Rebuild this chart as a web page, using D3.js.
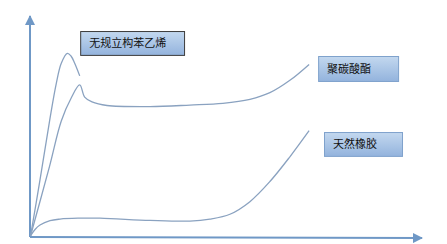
<!DOCTYPE html>
<html>
<head>
<meta charset="utf-8">
<script src="https://cdn.jsdelivr.net/npm/d3@7"></script>
<style>
  body { margin: 0; background: #fff; }
  svg { display: block; }
</style>
</head>
<body>
<svg width="447" height="244"></svg>
<script>
// curve values (x: strain 0..100, y: stress 0..100)
const atacticPS = [[0.13, 0.45], [2.55, 25.8], [5.03, 52.9], [6.71, 69.5], [7.98, 78.6], [9.52, 83.1], [10.46, 81.9], [11.4, 78.6], [12.68, 72.9]]
const polycarbonate = [[0.13, 0.45], [5.0, 32.1], [7.98, 52.5], [10.54, 63.0], [12.68, 68.8], [13.95, 63.3], [15.82, 61.1], [19.64, 59.5], [30.6, 59.0], [40.8, 59.7], [49.2, 60.5], [56.1, 62.3], [61.2, 65.3], [66.3, 70.9], [71.2, 78.1]]
const naturalRubber = [[0.13, 0.45], [1.28, 3.4], [2.55, 5.4], [5.1, 7.4], [7.65, 8.1], [12.24, 8.5], [17.86, 8.5], [30.6, 7.5], [40.8, 7.2], [45.9, 8.1], [51.0, 10.3], [56.1, 16.0], [61.2, 25.1], [66.3, 36.3], [71.2, 48.1]]
const series = [atacticPS, polycarbonate, naturalRubber]

const labels = ['无规立构苯乙烯', '聚碳酸酯', '天然橡胶']
// label box corners in data units [x0, y1, x1, y0]
const labelBoxes = [[12.8, 93.2, 39.3, 82.4], [73.5, 81.9, 93.9, 70.6], [75, 47.5, 94.9, 36.7]]
const labelBorder = ['#3c3c3c', '#7fa2cc', '#7fa2cc']

const svg = d3.select('svg')
const xScale = d3.scaleLinear().domain([0, 100]).range([30, 422])
const yScale = d3.scaleLinear().domain([0, 100]).range([237, 16])

const defs = svg.append('defs')
const grad = defs.append('linearGradient').attr('id', 'boxg').attr('x1', 0).attr('y1', 0).attr('x2', 0).attr('y2', 1)
grad.append('stop').attr('offset', '0%').attr('stop-color', '#c3d8ef')
grad.append('stop').attr('offset', '100%').attr('stop-color', '#93b3dd')

defs.append('marker')
  .attr('id', 'arrow')
  .attr('viewBox', '0 0 10 10')
  .attr('refX', 9).attr('refY', 5)
  .attr('markerWidth', 5).attr('markerHeight', 5)
  .attr('markerUnits', 'strokeWidth')
  .attr('orient', 'auto')
  .append('path').attr('d', 'M0,0 L10,5 L0,10 z').attr('fill', '#6f98c6')

// AXES
svg.append('line')
  .attr('x1', xScale(0)).attr('y1', yScale(0))
  .attr('x2', xScale(0)).attr('y2', yScale(100))
  .attr('stroke', '#6f98c6').attr('stroke-width', 2)
  .attr('marker-end', 'url(#arrow)')
svg.append('line')
  .attr('x1', xScale(0)).attr('y1', yScale(0))
  .attr('x2', xScale(100)).attr('y2', yScale(-0.5))
  .attr('stroke', '#6f98c6').attr('stroke-width', 2)
  .attr('marker-end', 'url(#arrow)')

// CURVES
const line = d3.line()
  .x(d => xScale(d[0]))
  .y(d => yScale(d[1]))
  .curve(d3.curveCatmullRom.alpha(0.5))

svg.append('g').selectAll('path')
  .data(series)
  .enter().append('path')
    .attr('d', line)
    .attr('fill', 'none')
    .attr('stroke', '#8aa2c0')
    .attr('stroke-width', 1.3)

// LABELS
const lg = svg.append('g').selectAll('g')
  .data(labels)
  .enter().append('g')

lg.append('rect')
  .attr('x', (d, i) => xScale(labelBoxes[i][0]) + 0.5)
  .attr('y', (d, i) => yScale(labelBoxes[i][1]) + 0.5)
  .attr('width', (d, i) => xScale(labelBoxes[i][2]) - xScale(labelBoxes[i][0]))
  .attr('height', (d, i) => yScale(labelBoxes[i][3]) - yScale(labelBoxes[i][1]))
  .attr('fill', 'url(#boxg)')
  .attr('stroke', (d, i) => labelBorder[i])
  .attr('stroke-width', 1)

lg.append('text')
  .text(d => d)
  .attr('x', (d, i) => xScale(labelBoxes[i][0]) + 9)
  .attr('y', (d, i) => (yScale(labelBoxes[i][1]) + yScale(labelBoxes[i][3])) / 2 + 4.5)
  .attr('font-family', '"Noto Sans CJK SC", sans-serif')
  .attr('font-size', '11px')
  .attr('fill', '#111')
</script>
</body>
</html>
